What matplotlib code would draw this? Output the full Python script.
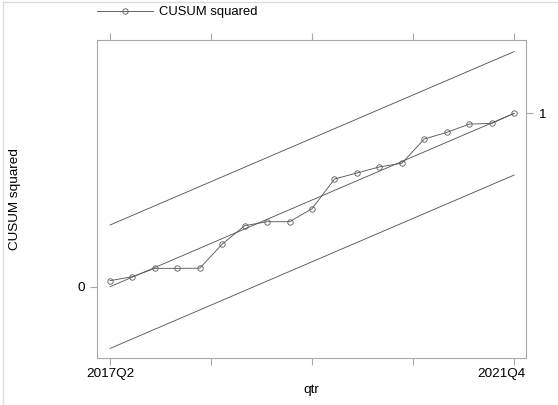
import matplotlib.pyplot as plt
from matplotlib.lines import Line2D
import matplotlib.transforms as mtransforms
import numpy as np

plt.rcParams['font.family'] = ['Liberation Sans', 'DejaVu Sans']

# quarterly CUSUM of squares, 2017Q2 .. 2021Q4
quarters = ['2017Q2', '2017Q3', '2017Q4', '2018Q1', '2018Q2', '2018Q3', '2018Q4',
            '2019Q1', '2019Q2', '2019Q3', '2019Q4', '2020Q1', '2020Q2', '2020Q3',
            '2020Q4', '2021Q1', '2021Q2', '2021Q3', '2021Q4']
cusumsq = [0.035, 0.058, 0.106, 0.106, 0.107, 0.246, 0.352, 0.375, 0.375, 0.450,
           0.621, 0.656, 0.691, 0.712, 0.852, 0.890, 0.938, 0.942, 1.0]

# expected path and 5% bounds, given at first and last quarter
ends = [0, len(quarters) - 1]
expected = [0.0, 1.0]
upper = [0.356, 1.356]
lower = [-0.356, 0.644]

tick_pos = [0, 4.5, 9, 13.5, 18]
tick_lab = ['2017Q2', '', '', '', '2021Q4']

line_col = '#5a5a5a'
axis_col = '#a8a8a8'

fig = plt.figure(figsize=(5.58, 4.05), dpi=100)
ax = fig.add_axes([97/558, 1 - 358/405, 428.5/558, 318/405])

x = np.arange(len(quarters))
ax.plot(x, cusumsq, color=line_col, lw=0.65, marker='o', ms=3.9,
        mfc='none', mec=line_col, mew=0.6)
for vals in (expected, upper, lower):
    ax.plot(ends, vals, color=line_col, lw=0.65)

ax.set_xlim(-0.58, 18.51)
ax.set_ylim(-0.411, 1.423)
ax.set_xticks(tick_pos)
ax.set_xticklabels(tick_lab)
ax.set_yticks([0])
ax.tick_params(axis='both', colors=axis_col, labelcolor='black', labelsize=9.7,
               length=5, width=0.8)
ax.tick_params(axis='x', top=True, pad=2)
ax.tick_params(axis='y', pad=4)
for s in ax.spines.values():
    s.set_color(axis_col)
    s.set_linewidth(0.8)

# last date label kept inside the plot's right edge
last = ax.get_xticklabels()[-1]
last.set_horizontalalignment('right')
last.set_transform(last.get_transform() +
                   mtransforms.ScaledTranslation(12/100, 0, fig.dpi_scale_trans))

ax.set_xlabel('qtr', fontsize=9.7, labelpad=3)
ax.set_ylabel('CUSUM squared', fontsize=9.7)
ax.yaxis.set_label_coords(-0.177, 0.5)

ax2 = ax.twinx()
ax2.set_ylim(ax.get_ylim())
ax2.set_yticks([1])
ax2.tick_params(axis='y', colors=axis_col, labelcolor='black', labelsize=9.7,
                length=5, width=0.8, pad=4)
for s in ax2.spines.values():
    s.set_visible(False)

handle = Line2D([], [], color=line_col, lw=0.65, marker='o', ms=3.9,
                mfc='none', mec=line_col, mew=0.6)
fig.legend([handle], ['CUSUM squared'], loc='center left',
           bbox_to_anchor=(97/558, 1 - 12/405), frameon=False, fontsize=9.4,
           handlelength=4.3, handletextpad=0.45, borderpad=0, borderaxespad=0,
           numpoints=1)

# thin frame lines along the top and left of the graph region
fig.add_artist(Line2D([3/558, 3/558], [0, 1 - 2/405], transform=fig.transFigure,
                      color='#dcdcdc', lw=1))
fig.add_artist(Line2D([3/558, 557/558], [1 - 2/405, 1 - 2/405], transform=fig.transFigure,
                      color='#dcdcdc', lw=1))

fig.savefig('out.png', dpi=100)
